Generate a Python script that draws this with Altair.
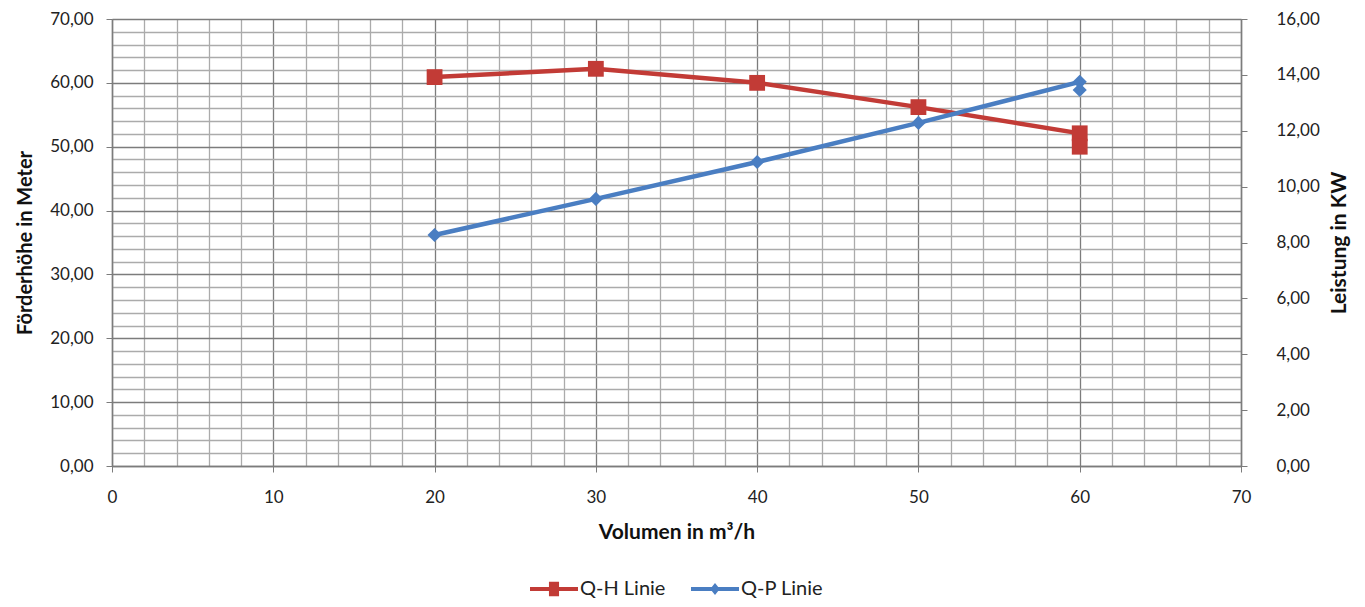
import altair as alt
import pandas as pd

# ---- data ----
volumen = [20, 30, 40, 50, 60, 60]
foerderhoehe = [60.9, 62.2, 60.0, 56.2, 52.1, 50.0]
leistung = [8.27, 9.56, 10.88, 12.28, 13.75, 13.46]
series_names = ["Q-H Linie", "Q-P Linie"]
series_colors = ["#C23B36", "#4A7EC2"]
x_ticks = list(range(0, 71, 2))
h_ticks = list(range(0, 71, 2))
p_ticks = list(range(0, 17, 2))

rows = []
for i, (q, h, p) in enumerate(zip(volumen, foerderhoehe, leistung)):
    rows.append({"idx": i, "Q": q, "value": h, "series": series_names[0]})
    rows.append({"idx": i, "Q": q, "value": p, "series": series_names[1]})
df = pd.DataFrame(rows)

FONT = "Lato"
MAJOR = "#7c7c7c"
MINOR = "#ababab"

legend_paths = [
    "M-1,-0.085H1V0.085H-1Z M-0.21,-0.3H0.21V0.3H-0.21Z",
    "M-1,-0.085H1V0.085H-1Z M0,-0.25L0.2,0L0,0.25L-0.2,0Z",
]

color_scale = alt.Scale(domain=series_names, range=series_colors)
shape_scale = alt.Scale(domain=series_names, range=legend_paths)

legend = alt.Legend(
    title=None, orient="none", direction="horizontal",
    legendX=418, legendY=546,
    symbolSize=2304, labelFontSize=20, labelFont=FONT, labelColor="#222",
    columnPadding=25, labelOffset=2, symbolStrokeWidth=0, symbolOpacity=1,
)

x_enc = alt.X(
    "Q:Q",
    scale=alt.Scale(domain=[0, 70], nice=False),
    axis=alt.Axis(
        values=x_ticks,
        title="Volumen in m³/h",
        grid=True,
        gridColor={"condition": {"test": "datum.value % 10 === 0", "value": MAJOR}, "value": MINOR},
        gridWidth=1.3,
        labelExpr="datum.value % 10 === 0 ? datum.label : ''",
        labelFlush=False,
        tickOpacity={"condition": {"test": "datum.value % 10 === 0", "value": 1}, "value": 0},
        tickSize=6, tickColor=MAJOR,
        labelPadding=17, labelFontSize=17, labelFont=FONT, labelColor="#222",
        titleFontSize=21, titleFont=FONT, titleFontWeight="bold", titleColor="#111",
        titlePadding=16, domainColor=MAJOR, domainWidth=1.5,
    ),
)

y_left = alt.Y(
    "value:Q",
    scale=alt.Scale(domain=[0, 70], nice=False),
    axis=alt.Axis(
        values=h_ticks,
        title="Förderhöhe in Meter",
        grid=True,
        gridColor={"condition": {"test": "datum.value % 10 === 0", "value": MAJOR}, "value": MINOR},
        gridWidth=1.3,
        labelExpr="datum.value % 10 === 0 ? replace(format(datum.value, '.2f'), '.', ',') : ''",
        labelFlush=False,
        tickOpacity={"condition": {"test": "datum.value % 10 === 0", "value": 1}, "value": 0},
        tickSize=6, tickColor=MAJOR,
        labelPadding=13, labelFontSize=17, labelFont=FONT, labelColor="#222",
        titleFontSize=20, titleFont=FONT, titleFontWeight="bold", titleColor="#111",
        titlePadding=14, domainColor=MAJOR, domainWidth=1.5,
    ),
)

y_right = alt.Y(
    "value:Q",
    scale=alt.Scale(domain=[0, 16], nice=False),
    axis=alt.Axis(
        values=p_ticks,
        orient="right",
        title="Leistung in KW",
        titleAngle=270,
        grid=False,
        labelExpr="replace(format(datum.value, '.2f'), '.', ',')",
        labelFlush=False,
        tickSize=6, tickColor=MAJOR,
        labelPadding=29, labelFontSize=17, labelFont=FONT, labelColor="#222",
        titleFontSize=21, titleFont=FONT, titleFontWeight="bold", titleColor="#111",
        titlePadding=30, domainColor=MAJOR, domainWidth=1.5,
    ),
)

base = alt.Chart(df)
color_enc = alt.Color("series:N", scale=color_scale, legend=legend)

red_line = base.transform_filter(alt.datum.series == series_names[0]).mark_line(strokeWidth=4.5).encode(
    x=x_enc, y=y_left, color=color_enc, order="idx:Q")
red_pts = base.transform_filter(alt.datum.series == series_names[0]).mark_point(
    shape="square", filled=True, size=250, opacity=1).encode(x=x_enc, y=y_left, color=color_enc)
legend_layer = base.transform_filter("datum.Q < 0").mark_point(filled=True, opacity=1).encode(
    x=x_enc, y=y_left,
    color=color_enc,
    shape=alt.Shape("series:N", scale=shape_scale, legend=legend),
)

blue_line = base.transform_filter(alt.datum.series == series_names[1]).mark_line(strokeWidth=4.5).encode(
    x=x_enc, y=y_right, color=color_enc, order="idx:Q")
blue_pts = base.transform_filter(alt.datum.series == series_names[1]).mark_point(
    shape="diamond", filled=True, size=200, opacity=1).encode(x=x_enc, y=y_right, color=color_enc)

left = alt.layer(red_line, red_pts, legend_layer)
right = alt.layer(blue_line, blue_pts)

chart = alt.layer(left, right).resolve_scale(y="independent").properties(
    width=1129, height=447,
    autosize=alt.AutoSizeParams(type="none"),
    padding={"left": 104, "top": 11, "right": 116, "bottom": 132},
).configure_view(stroke=None).configure(background="white")

chart.save("out.html", embed_options={"renderer": "svg", "actions": False})
